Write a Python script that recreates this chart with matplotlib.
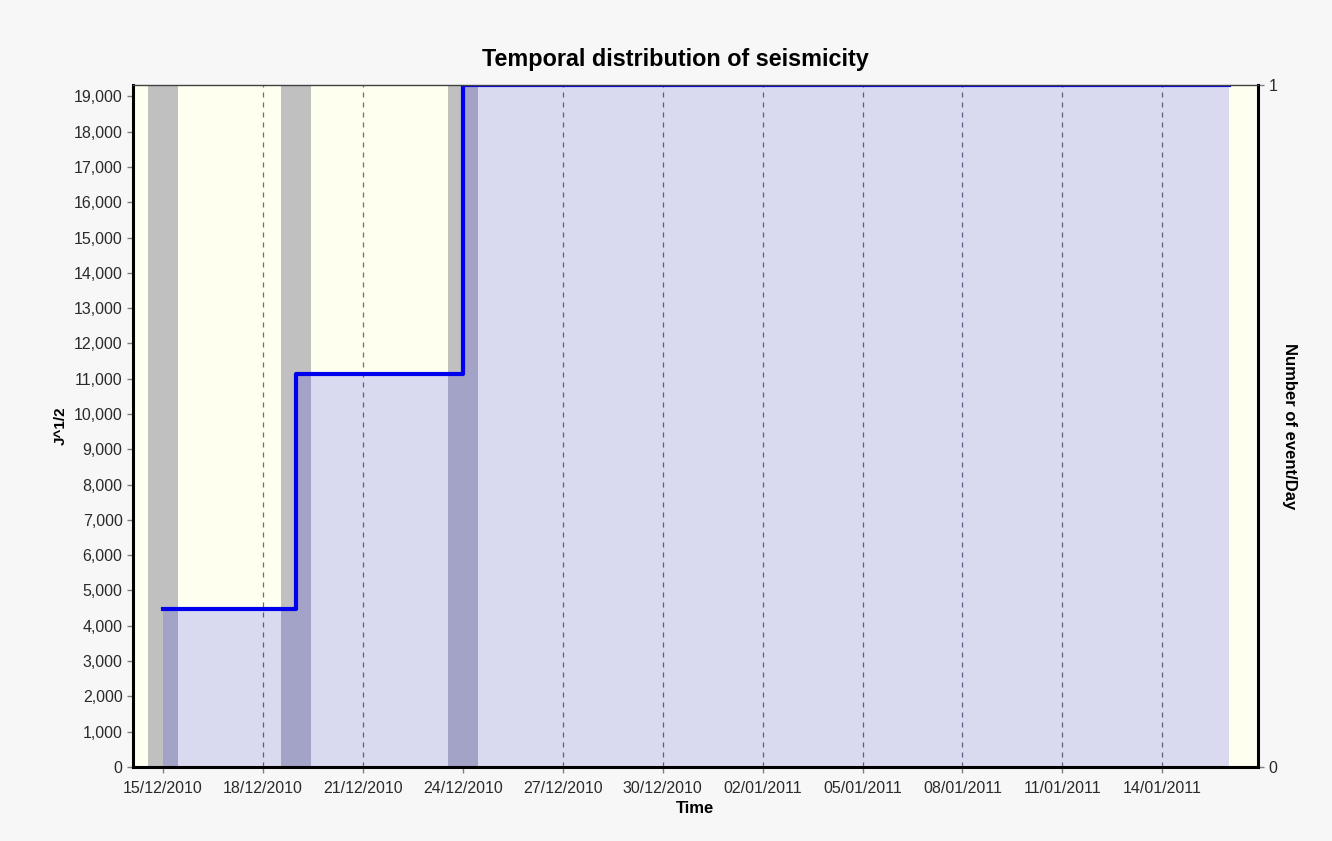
import matplotlib
matplotlib.use('Agg')
import matplotlib.pyplot as plt
import matplotlib.dates as mdates
import matplotlib.ticker as mticker
import pandas as pd

plt.rcParams['font.family'] = ['Liberation Sans', 'DejaVu Sans']

# days with events and the number of events on each day
event_days = ['2010-12-15', '2010-12-19', '2010-12-24']
events_per_day = [1, 1, 1]
# cumulative J^1/2 after each event
j_half = [4475, 11130, 19320]
series_end = '2011-01-16'
tick_start = '2010-12-15'
tick_end = '2011-01-14'

days = pd.to_datetime(event_days)
end = pd.to_datetime(series_end)
step_x = list(days) + [end]
step_y = j_half + [j_half[-1]]

fig = plt.figure(figsize=(13.32, 8.41), dpi=100, facecolor='#f7f7f7')
ax2 = fig.add_axes([0.0998, 0.088, 0.8446, 0.8109])
ax = ax2.twinx()
ax.set_zorder(ax2.get_zorder() + 1)
ax.patch.set_visible(False)
ax2.set_facecolor('#fffff0')

# swap sides: ax carries the left scale, ax2 the right one
ax.yaxis.tick_left()
ax.yaxis.set_label_position('left')
ax2.yaxis.tick_right()
ax2.yaxis.set_label_position('right')

ax2.bar(days, events_per_day, width=0.9, color='#c0c0c0', zorder=2)
ax2.set_ylim(0, 1)
ax2.set_yticks([0, 1])
ax2.grid(axis='x', color='#707070', linestyle=(0, (4, 4)), linewidth=0.9, zorder=1)
ax2.set_axisbelow(True)

ax.fill_between(step_x, step_y, 0, step='post', color='#0000f0', alpha=0.15, linewidth=0)
ax.plot(step_x, step_y, drawstyle='steps-post', color='#0000ee', linewidth=3)
ax.set_ylim(0, j_half[-1])
ax.set_yticks(range(0, 20000, 1000))
ax.yaxis.set_major_formatter(mticker.FuncFormatter(lambda v, p: f'{int(v):,}'))

ticks = pd.date_range(tick_start, tick_end, freq='3D')
ax2.set_xticks(ticks)
ax2.xaxis.set_major_formatter(mdates.DateFormatter('%d/%m/%Y'))
ax2.set_xlim(mdates.date2num(days[0]) - 0.9, mdates.date2num(end) + 0.87)

for a in (ax, ax2):
    a.tick_params(colors='#808080', labelcolor='#2a2a2a', labelsize=11.5, length=4, width=1)
    for s in a.spines.values():
        s.set_visible(False)
ax2.tick_params(axis='x', pad=6)

ax.spines['left'].set_visible(True)
ax.spines['bottom'].set_visible(True)
ax.spines['right'].set_visible(True)
ax.spines['top'].set_visible(True)
ax.spines['left'].set_linewidth(2.2)
ax.spines['bottom'].set_linewidth(2.2)
ax.spines['right'].set_linewidth(2.2)
ax.spines['top'].set_linewidth(1)
ax.spines['top'].set_color('#404040')

fig.text(0.507, 0.929, 'Temporal distribution of seismicity', fontsize=16.8,
         fontweight='bold', ha='center', va='center')
ax2.set_xlabel('Time', fontsize=12, fontweight='bold', labelpad=4)
ax.set_ylabel('J^1/2', fontsize=11, fontweight='bold', labelpad=4)
ax2.set_ylabel('Number of event/Day', fontsize=12, fontweight='bold', rotation=-90, labelpad=14)

fig.savefig('out.png', dpi=100, facecolor=fig.get_facecolor())
